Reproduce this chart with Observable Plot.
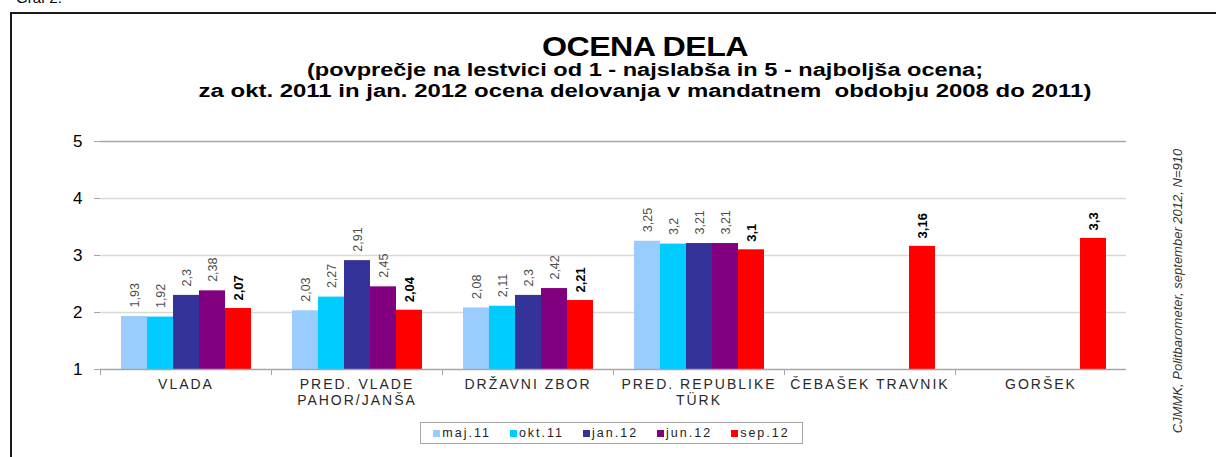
<!DOCTYPE html>
<html><head><meta charset="utf-8">
<script src="https://cdn.jsdelivr.net/npm/d3@7"></script>
<script src="https://cdn.jsdelivr.net/npm/@observablehq/plot@0.6"></script>
<style>
body{margin:0;background:#fff;font-family:"Liberation Sans",Arial,sans-serif;}
#wrap{position:relative;width:1216px;height:457px;overflow:hidden;background:#fff;}
#frame{position:absolute;left:10px;top:12px;width:1230px;height:470px;border-left:2px solid #1a1a1a;border-top:2px solid #1a1a1a;}
#graf{position:absolute;left:16px;top:-11px;font-size:15px;color:#000;}
.t{position:absolute;left:0;width:1290px;text-align:center;font-weight:bold;color:#000;white-space:nowrap;line-height:1;transform-origin:645px 50%;}
#title{top:33px;font-size:28px;letter-spacing:-0.5px;transform:scaleX(1.15);}
#sub1{top:61px;font-size:18px;transform:scaleX(1.31);}
#sub2{top:82px;font-size:18px;transform:scaleX(1.33);}
#chart{position:absolute;left:0;top:0;}
#legend{position:absolute;left:420px;top:422px;width:381px;height:20px;border:1px solid #a6a6a6;display:flex;align-items:center;justify-content:center;gap:19px;font-size:12.5px;letter-spacing:2px;color:#222;}
#legend .it{display:flex;align-items:center;}
#legend .sw{width:7px;height:7px;margin-right:2px;}
#caption{position:absolute;left:1177px;top:291px;transform:translate(-50%,-50%) rotate(-90deg);font-style:italic;font-size:13px;color:#333;white-space:nowrap;}
svg [aria-label="fx-axis tick label"]{letter-spacing:2px;}
</style>
</head><body>
<div id="wrap">
  <div id="graf">Graf 2.</div>
  <div id="frame"></div>
  <div id="chart"></div>
  <div class="t" id="title">OCENA DELA</div>
  <div class="t" id="sub1">(povprečje na lestvici od 1 - najslabša in 5 - najboljša ocena;</div>
  <div class="t" id="sub2">za okt. 2011 in jan. 2012 ocena delovanja v mandatnem&nbsp; obdobju 2008 do 2011)</div>
  <div id="legend"></div>
  <div id="caption">CJMMK, Politbarometer, september 2012, N=910</div>
</div>
<script>
const categories = ["VLADA", "PRED. VLADE\nPAHOR/JANŠA", "DRŽAVNI ZBOR", "PRED. REPUBLIKE\nTÜRK", "ČEBAŠEK TRAVNIK", "GORŠEK"];
const series = ["maj.11", "okt.11", "jan.12", "jun.12", "sep.12"];
const maj11 = [1.93, 2.03, 2.08, 3.25, null, null];
const okt11 = [1.92, 2.27, 2.11, 3.2, null, null];
const jan12 = [2.3, 2.91, 2.3, 3.21, null, null];
const jun12 = [2.38, 2.45, 2.42, 3.21, null, null];
const sep12 = [2.07, 2.04, 2.21, 3.1, 3.16, 3.3];
const colors = ["#99ccff", "#00ccff", "#333399", "#800080", "#ff0000"];
const yTicks = [1, 2, 3, 4, 5];

const values = [maj11, okt11, jan12, jun12, sep12];
const rows = [];
series.forEach((s, i) => categories.forEach((c, j) => {
  if (values[i][j] != null) rows.push({cat: c, series: s, value: values[i][j]});
}));
const fmt = v => String(v).replace(".", ",");
const last = series[series.length - 1];

const chart = Plot.plot({
  width: 1216, height: 457,
  marginTop: 141, marginBottom: 88, marginLeft: 97, marginRight: 88,
  style: {fontFamily: "'Liberation Sans', Arial, sans-serif", background: "transparent", overflow: "visible"},
  fx: {domain: categories, padding: 0, label: null},
  x: {domain: series, paddingInner: 0, paddingOuter: 0.73, axis: null},
  y: {domain: [1, 5], label: null},
  color: {domain: series, range: colors},
  marks: [
    Plot.ruleY([2, 3, 4], {stroke: "#d9d9d9", strokeWidth: 1.5}),
    Plot.ruleY([5], {stroke: "#a6a6a6", strokeWidth: 1.5}),
    Plot.barY(rows, {fx: "cat", x: "series", y1: 1, y2: "value", fill: "series"}),
    Plot.text(rows.filter(d => d.series !== last), {fx: "cat", x: "series", y: "value", text: d => fmt(d.value), rotate: -90, textAnchor: "start", dy: -9, fill: "#4d4d4d", fontSize: 12.5}),
    Plot.text(rows.filter(d => d.series === last), {fx: "cat", x: "series", y: "value", text: d => fmt(d.value), rotate: -90, textAnchor: "start", dy: -8, fill: "#000", fontSize: 13, fontWeight: "bold"}),
    Plot.ruleY([1], {stroke: "#a6a6a6", strokeWidth: 1.5}),
    Plot.frame({anchor: "left", stroke: "#a6a6a6", insetTop: 228, insetBottom: -5}),
    Plot.axisY({anchor: "left", ticks: yTicks, tickFormat: d => d, tickSize: 6, tickPadding: 12, stroke: "#a6a6a6", fill: "#000", fontSize: 17, line: true}),
    Plot.axisY({anchor: "right", ticks: [], line: true, stroke: "#a6a6a6", label: null}),
    Plot.axisFx({anchor: "bottom", tickSize: 0, tickPadding: 8, fontSize: 14, lineHeight: 1.15, fill: "#2a2a2a", label: null})
  ]
});
document.getElementById("chart").appendChild(chart);

const legend = document.getElementById("legend");
series.forEach((s, i) => {
  const it = document.createElement("div");
  it.className = "it";
  it.innerHTML = `<span class="sw" style="background:${colors[i]}"></span><span>${s}</span>`;
  legend.appendChild(it);
});
</script>
</body></html>
